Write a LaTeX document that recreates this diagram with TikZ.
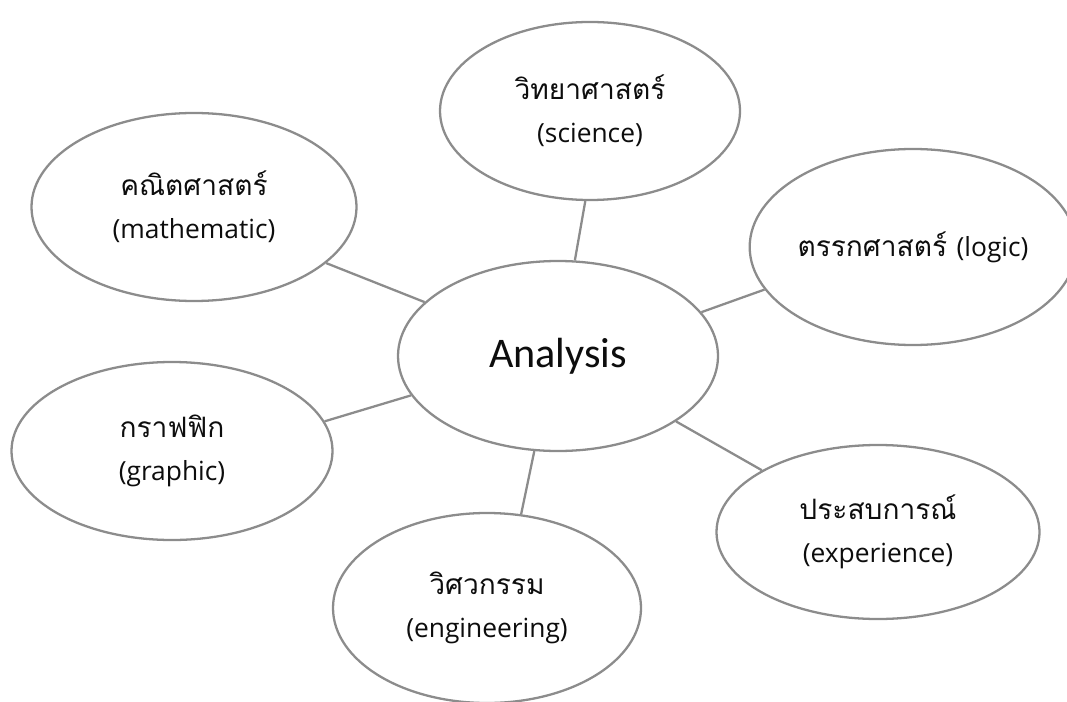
\documentclass[tikz,border=0pt]{standalone}
\usepackage{fontspec}
\usepackage{tikz}
\usetikzlibrary{shapes.geometric, positioning}
\newfontfamily\thaifont[Script=Thai]{Loma}
\newfontfamily\latinfont{Open Sans}
\newfontfamily\calfont{Carlito}
\newcommand{\eng}[1]{{\latinfont\fontsize{15}{24.5}\selectfont #1}}
\definecolor{lineGray}{gray}{0.55}
\definecolor{mainBlack}{gray}{0.05}

\begin{document}
\begin{tikzpicture}[
    topic/.style={ellipse, draw=lineGray, line width=1.3pt, fill=white, inner sep=0pt,
        align=center, text=mainBlack, font=\thaifont\fontsize{16}{24.5}\selectfont},
    link/.style={lineGray, line width=1.3pt}
]
    \useasboundingbox (0,0) rectangle (21.34,14.02);

    % Center
    \node[topic, minimum width=6.4cm, minimum height=3.8cm,
        font=\calfont\fontsize{24}{28}\selectfont] (ana) at (11.16, 6.90) {Analysis};

    % Topics
    \node[topic, minimum width=6.0cm, minimum height=3.56cm] (sci) at (11.8, 11.8)
        {วิทยาศาสตร์\\\eng{(science)}};
    \node[topic, minimum width=6.5cm, minimum height=3.76cm] (mat) at (3.88, 9.88)
        {คณิตศาสตร์\\\eng{(mathematic)}};
    \node[topic, minimum width=6.32cm, minimum height=3.92cm] (log) at (18.26, 9.08)
        {ตรรกศาสตร์ \eng{(logic)}};
    \node[topic, minimum width=6.42cm, minimum height=3.56cm] (gra) at (3.44, 5.0)
        {กราฟฟิก\\\eng{(graphic)}};
    \node[topic, minimum width=6.16cm, minimum height=3.8cm] (eng) at (9.74, 1.86)
        {วิศวกรรม\\\eng{(engineering)}};
    \node[topic, minimum width=6.46cm, minimum height=3.48cm] (exp) at (17.56, 3.38)
        {ประสบการณ์\\\eng{(experience)}};

    % Links
    \draw[link] (ana.80) -- (sci.267);
    \draw[link] (ana.158) -- (mat.-23.5);
    \draw[link] (ana.17) -- (log.196.7);
    \draw[link] (ana.195.7) -- (gra.11.5);
    \draw[link] (ana.256.5) -- (eng.70.1);
    \draw[link] (ana.-29.8) -- (exp.152.8);
\end{tikzpicture}
\end{document}
